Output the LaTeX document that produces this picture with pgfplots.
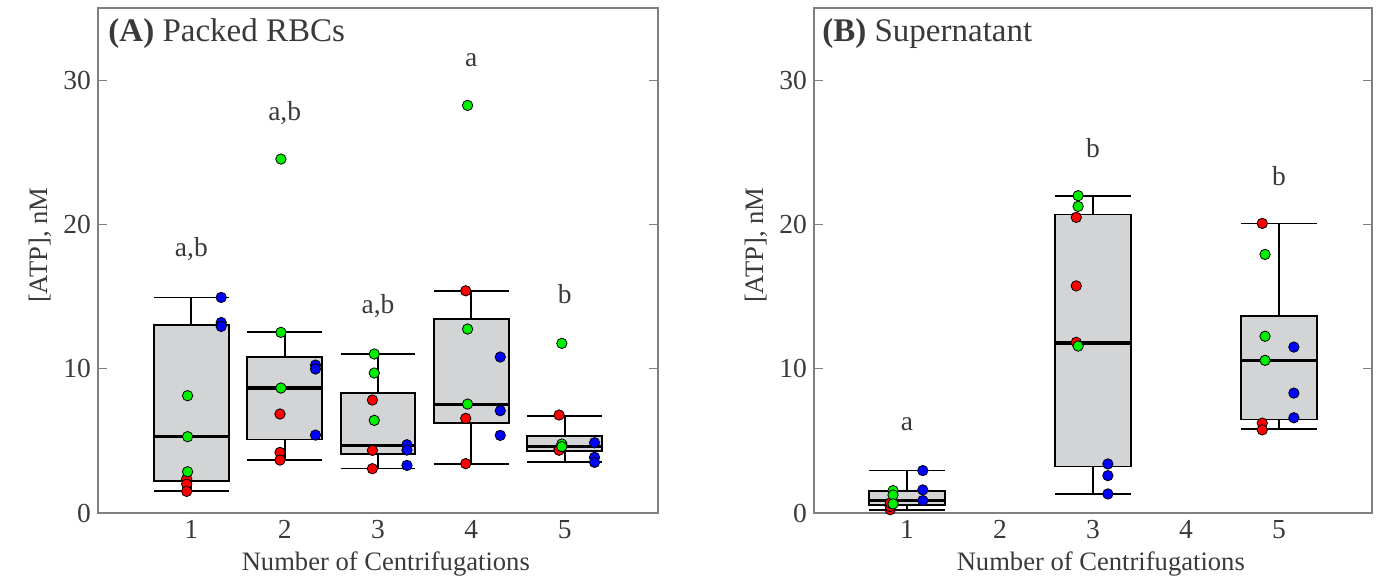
\documentclass[border=0pt]{standalone}
\usepackage{pgfplots}
\pgfplotsset{compat=1.18}
\usepgfplotslibrary{statistics}
\usepackage{fontspec}
\setmainfont{Liberation Serif}

\definecolor{boxgray}{HTML}{D3D4D6}
\definecolor{axgray}{HTML}{808080}
\definecolor{txt}{HTML}{3A3A3A}
\definecolor{ptred}{HTML}{FF0000}
\definecolor{ptgreen}{HTML}{00EE00}
\definecolor{ptblue}{HTML}{0000FF}

\pgfplotsset{
  panel/.style={
    scale only axis, width=280pt, height=252.5pt,
    xmin=0, xmax=6, ymin=0, ymax=35,
    xtick={1,...,5}, ytick={0,10,20,30},
    tick align=inside, major tick length=4.5pt,
    major x tick style={draw=none},
    major y tick style={axgray, line width=0.5pt},
    axis line style={axgray, line width=0.6pt},
    ticklabel style={font=\fontsize{13.75}{16}\selectfont, text=txt},
    /pgf/number format/assume math mode=true,
    xlabel={Number of Centrifugations}, ylabel={[ATP], nM},
    every axis x label/.style={at={(axis description cs:0.514,-0.101)}, anchor=center,
      font=\fontsize{13.3}{16}\selectfont, text=txt},
    every axis y label/.style={at={(axis description cs:-0.1036,0.53)}, rotate=90, anchor=center,
      font=\fontsize{13.3}{16}\selectfont, text=txt},
    clip=false,
  },
  boxplot/draw direction=y,
  boxplot/every median/.style={line width=1.8pt},
  boxplot/every whisker/.style={line width=0.9pt},
  boxplot/every box/.style={line width=0.9pt},
  bx/.style={draw=black, fill=boxgray, line width=0.9pt},
  rpt/.style={only marks, mark=*, mark size=2.6pt, draw=black, fill=ptred, line width=0.4pt},
  gpt/.style={only marks, mark=*, mark size=2.6pt, draw=black, fill=ptgreen, line width=0.4pt},
  bpt/.style={only marks, mark=*, mark size=2.6pt, draw=black, fill=ptblue, line width=0.4pt},
}

\begin{document}
\begin{tikzpicture}
% (A) packed RBCs
\begin{axis}[panel, at={(49pt,33pt)}, anchor=south west]
\addplot[bx, boxplot prepared={draw position=1, lower whisker=1.52, lower quartile=2.24, median=5.31, upper quartile=13.05, upper whisker=14.94, box extend=0.8, whisker extend=0.8}] coordinates {};
\addplot[bx, boxplot prepared={draw position=2, lower whisker=3.67, lower quartile=5.10, median=8.66, upper quartile=10.81, upper whisker=12.52, box extend=0.8, whisker extend=0.8}] coordinates {};
\addplot[bx, boxplot prepared={draw position=3, lower whisker=3.09, lower quartile=4.09, median=4.67, upper quartile=8.29, upper whisker=11.02, box extend=0.8, whisker extend=0.8}] coordinates {};
\addplot[bx, boxplot prepared={draw position=4, lower whisker=3.42, lower quartile=6.24, median=7.53, upper quartile=13.42, upper whisker=15.40, box extend=0.8, whisker extend=0.8}] coordinates {};
\addplot[bx, boxplot prepared={draw position=5, lower whisker=3.51, lower quartile=4.27, median=4.62, upper quartile=5.36, upper whisker=6.74, box extend=0.8, whisker extend=0.8}] coordinates {};

\addplot[rpt] coordinates {(0.95,2.36) (0.95,2.0) (0.95,1.5) (1.95,6.86) (1.95,4.2) (1.95,3.67)
  (2.94,7.83) (2.94,4.34) (2.94,3.07) (3.94,15.4) (3.94,6.56) (3.94,3.42)
  (4.94,6.79) (4.94,4.43) (4.94,4.35)};
\addplot[gpt] coordinates {(0.96,8.13) (0.96,5.29) (0.96,2.86) (1.96,24.53) (1.96,12.52) (1.96,8.66)
  (2.96,11.02) (2.96,9.7) (2.96,6.42) (3.96,28.25) (3.96,12.75) (3.96,7.55)
  (4.97,11.76) (4.97,4.78) (4.97,4.6)};
\addplot[bpt] coordinates {(1.32,14.94) (1.32,13.2) (1.32,12.93) (2.33,10.25) (2.33,9.98) (2.33,5.4)
  (3.31,4.73) (3.31,4.36) (3.31,3.30) (4.31,10.81) (4.31,7.09) (4.31,5.38)
  (5.32,4.87) (5.32,3.86) (5.32,3.51)};

\begin{scope}[every node/.style={font=\fontsize{13.75}{16}\selectfont, text=txt}]
\node at (axis cs:1,18.27) {a,b};
\node at (axis cs:2,27.7) {a,b};
\node at (axis cs:3,14.34) {a,b};
\node at (axis cs:4,31.4) {a};
\node at (axis cs:5,15.15) {b};
\end{scope}
\node[anchor=base west, inner sep=0pt, font=\fontsize{16.5}{19}\selectfont, text=txt] at (rel axis cs:0.018,0.933) {\textbf{(A)} Packed RBCs};
\end{axis}

% (B) supernatant
\begin{axis}[panel, at={(407pt,33pt)}, anchor=south west, width=279pt]
\addplot[bx, boxplot prepared={draw position=1, lower whisker=0.23, lower quartile=0.56, median=0.86, upper quartile=1.55, upper whisker=2.94, box extend=0.82, whisker extend=0.82}] coordinates {};
\addplot[bx, boxplot prepared={draw position=3, lower whisker=1.32, lower quartile=3.22, median=11.78, upper quartile=20.69, upper whisker=21.99, box extend=0.82, whisker extend=0.82}] coordinates {};
\addplot[bx, boxplot prepared={draw position=5, lower whisker=5.81, lower quartile=6.48, median=10.58, upper quartile=13.66, upper whisker=20.07, box extend=0.82, whisker extend=0.82}] coordinates {};

\addplot[rpt] coordinates {(0.82,0.23) (0.82,0.45) (0.82,0.7) (2.82,20.49) (2.82,15.74) (2.82,11.83)
  (4.82,20.07) (4.82,6.23) (4.82,5.76)};
\addplot[gpt] coordinates {(0.85,1.55) (0.85,1.25) (0.85,0.63) (2.84,21.99) (2.84,21.25) (2.84,11.57)
  (4.85,17.92) (4.85,12.25) (4.85,10.58)};
\addplot[bpt] coordinates {(1.17,2.94) (1.17,1.6) (1.17,0.86) (3.16,3.40) (3.16,2.59) (3.16,1.32)
  (5.16,11.5) (5.16,8.31) (5.16,6.6)};

\begin{scope}[every node/.style={font=\fontsize{13.75}{16}\selectfont, text=txt}]
\node at (axis cs:1,6.18) {a};
\node at (axis cs:3,25.27) {b};
\node at (axis cs:5,23.35) {b};
\end{scope}
\node[anchor=base west, inner sep=0pt, font=\fontsize{16.5}{19}\selectfont, text=txt] at (rel axis cs:0.0143,0.933) {\textbf{(B)} Supernatant};
\end{axis}

\pgfresetboundingbox
\path (0pt,0pt) rectangle (688.5pt,289.5pt);
\end{tikzpicture}
\end{document}
